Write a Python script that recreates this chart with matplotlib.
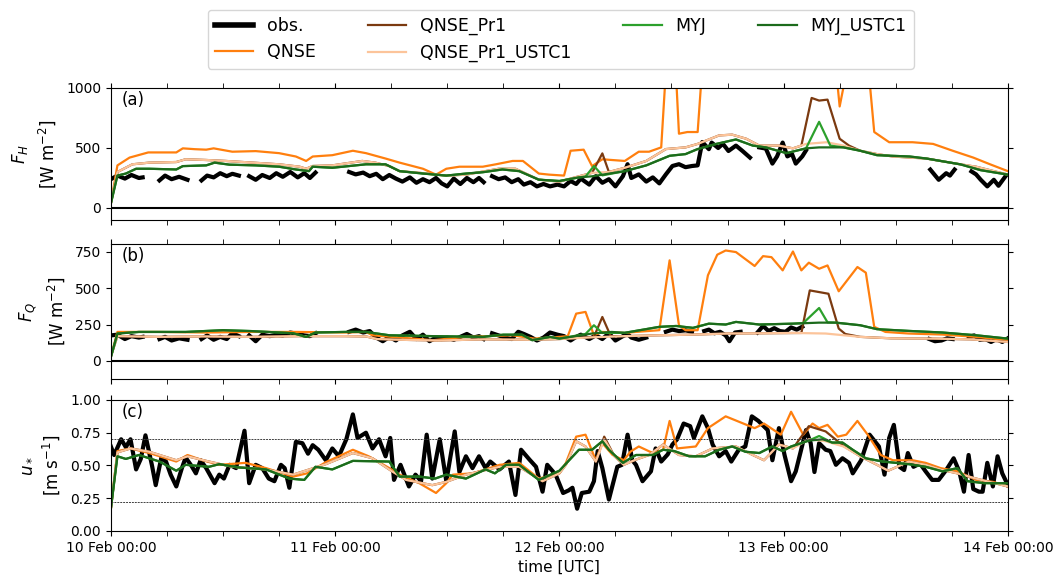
import numpy as np
import matplotlib
matplotlib.use('Agg')
import matplotlib.pyplot as plt
import matplotlib.dates as mdates

nan = np.nan

# ---- data: (hours since 10 Feb 00:00 UTC, value) ----
# (a) sensible heat flux F_H [W m-2]
obs_a = [(0, 240), (0.7, 270), (1.5, 245), (2.2, 275), (3, 250), (3.4, 255), (4.2, nan),
         (5.2, 230), (5.8, 270), (6.5, 240), (7.3, 260), (8.2, 235), (9, nan),
         (9.7, 230), (10.3, 270), (11, 255), (11.7, 290), (12.4, 265), (13, 285), (13.7, 270), (14.2, nan),
         (14.8, 265), (15.5, 235), (16.2, 275), (17, 250), (17.7, 290), (18.4, 260), (19.2, 300), (20, 255),
         (20.7, 290), (21.3, 250), (21.9, 295), (22.5, nan),
         (25.5, 300), (26.2, 280), (27, 295), (27.7, 265), (28.4, 285), (29.1, 240), (29.8, 275), (30.5, 245),
         (31.2, 220), (32, 255), (32.7, 210), (33.4, 240), (34.1, 215), (34.8, 250), (35.4, 205), (36, 180),
         (36.7, 245), (37.4, 200), (38.1, 250), (38.8, 215), (39.4, 250), (39.9, 215), (40.3, nan),
         (40.8, 265), (41.5, 240), (42.2, 255), (42.9, 215), (43.6, 240), (44.2, 195), (44.9, 215), (45.6, 180),
         (46.3, 200), (47, 180), (47.8, 195), (48.5, 180), (49.2, 225), (49.8, 200), (50.3, 245), (51.2, 195),
         (51.9, 265), (52.6, 210), (53.3, 240), (54, 180), (54.8, 265), (55.3, 365), (55.7, 250), (56.5, 280),
         (57.3, 220), (58, 255), (58.7, 205), (59.4, 280), (60.1, 350), (60.8, 365), (61.5, 340), (62.2, 350),
         (62.8, 355), (63.3, 550), (64, 490), (64.3, 545), (65, 500), (65.5, 535), (66.1, 475), (66.9, 520),
         (67.6, 475), (68.4, 420), (68.9, nan),
         (69.4, 505), (70.1, 495), (70.8, 370), (71.3, 430), (71.9, 545), (72.4, 430), (72.9, 450), (73.3, 370),
         (74, 430), (74.4, 480), (74.9, nan),
         (87.7, 320), (88.6, 235), (89.4, 290), (89.8, 270), (90.3, 320), (90.8, nan),
         (92.1, 305), (92.6, 280), (93.1, 235), (93.8, 180), (94.5, 235), (95, 185), (95.8, 270)]
qnse_a = [(0, 40), (0.7, 355), (2, 420), (4, 463), (7, 463), (7.7, 497), (9, 490), (10.2, 486), (11, 497),
          (13, 469), (15.5, 474), (18, 457), (19.8, 429), (20.9, 392), (21.6, 429), (23.7, 440), (25.9, 477),
          (27.3, 457), (29.4, 412), (30.9, 378), (33.4, 327), (34.8, 278), (35.9, 327), (37.3, 344), (39.8, 344),
          (41.2, 364), (43, 392), (44.1, 392), (45.8, 287), (46.9, 278), (48.5, 270), (49.2, 477), (50.6, 486),
          (51.5, 349), (52.6, 406), (53.6, 400), (55, 392), (56.5, 469), (57.6, 469), (58.9, 505), (59.6, 1400),
          (60.3, 1400), (60.8, 619), (61.7, 633), (62.8, 633), (63.5, 1400), (77.3, 1400), (78, 846),
          (79.4, 1400), (80.8, 1400), (81.7, 633), (83.3, 548), (85.8, 548), (88, 534), (90.1, 477),
          (92.3, 420), (94.1, 364), (96, 307)]
qnse_pr1_a = [(0, 40), (0.7, 300), (2.3, 364), (4.1, 378), (7, 383), (8, 406), (10.2, 400), (12.3, 392),
              (15.2, 378), (18, 364), (20.2, 344), (20.9, 327), (21.6, 350), (23.7, 355), (26.9, 392), (28.3, 378),
              (29.8, 349), (30.9, 307), (33, 293), (35.9, 270), (38, 278), (41.5, 327), (43.3, 327), (45.8, 236),
              (48, 220), (50.1, 264), (51.5, 293), (52.6, 455), (53.3, 300), (55, 335), (57.3, 392), (59.4, 491),
              (61.5, 505), (62.8, 534), (65.1, 605), (66.5, 611), (68, 577), (69.4, 520), (71.5, 520), (73, 497),
              (73.9, 520), (75, 917), (75.8, 895), (76.7, 903), (78, 577), (79, 520), (80.2, 477), (82, 449),
              (83.7, 429), (87.3, 412), (90.9, 364), (92.6, 344), (96, 278)]
qnse_pr1_ustc1_a = [(0, 40), (0.7, 300), (2.3, 364), (4.1, 378), (7, 383), (8, 406), (10.2, 400), (12.3, 392),
                    (15.2, 378), (18, 364), (20.2, 344), (20.9, 327), (21.6, 350), (23.7, 355), (26.9, 392),
                    (28.3, 378), (29.8, 349), (30.9, 307), (33, 293), (35.9, 270), (38, 278), (41.5, 327),
                    (43.3, 327), (45.8, 236), (48, 220), (50.1, 264), (51.5, 293), (53.3, 300), (55, 335),
                    (57.3, 392), (59.4, 491), (61.5, 505), (62.8, 534), (65.1, 605), (66.5, 611), (68, 577),
                    (69.4, 520), (71.5, 520), (73, 497), (74.4, 534), (76.6, 548), (78.4, 520), (80.2, 477),
                    (82, 449), (83.7, 429), (87.3, 412), (90.9, 364), (92.6, 344), (96, 278)]
myj_a = [(0, 37), (0.7, 270), (1.6, 287), (2.7, 327), (4.1, 327), (7, 321), (7.7, 349), (10.2, 355), (11.1, 378),
         (12.7, 361), (15.5, 355), (18, 344), (19.8, 321), (21.2, 307), (21.6, 344), (23.7, 335), (27.3, 364),
         (29.4, 364), (30.9, 307), (33.4, 287), (35.9, 270), (38, 287), (39.8, 298), (41.9, 321), (43.7, 307),
         (45.8, 236), (48, 225), (50.1, 255), (50.8, 262), (51.7, 350), (52.6, 272), (55, 307), (57.3, 355),
         (59.8, 435), (61.5, 449), (62.8, 491), (64.8, 534), (66.9, 571), (68.7, 520), (70.1, 505), (72.3, 457),
         (74.4, 497), (75.8, 718), (77, 520), (78.4, 505), (80.2, 477), (82, 440), (85.5, 429), (87.3, 412),
         (90.9, 364), (93.1, 315), (96, 278)]
myj_ustc1_a = [(0, 37), (0.7, 270), (1.6, 287), (2.7, 327), (4.1, 327), (7, 321), (7.7, 349), (10.2, 355),
               (11.1, 378), (12.7, 361), (15.5, 355), (18, 344), (19.8, 321), (21.2, 307), (21.6, 344), (23.7, 335),
               (27.3, 364), (29.4, 364), (30.9, 307), (33.4, 287), (35.9, 270), (38, 287), (39.8, 298), (41.9, 321),
               (43.7, 307), (45.8, 236), (48, 225), (50.1, 255), (51.5, 264), (55, 307), (57.3, 355), (59.8, 435),
               (61.5, 449), (62.8, 491), (64.8, 534), (66.9, 571), (68.7, 520), (70.1, 505), (72.3, 457),
               (74.4, 497), (75.8, 505), (78.4, 505), (80.2, 477), (82, 440), (85.5, 429), (87.3, 412),
               (90.9, 364), (93.1, 315), (96, 278)]

# (b) latent heat flux F_Q [W m-2]
obs_b = [(0, 175), (0.7, 180), (1.5, 150), (2.2, 170), (3, 160), (3.4, 165), (4.2, nan),
         (5.2, 150), (5.8, 165), (6.5, 140), (7.3, 155), (8.2, 145), (9, nan),
         (9.7, 150), (10.3, 175), (11, 145), (11.7, 165), (12.4, 150), (13, 190), (13.7, 170), (14.2, nan),
         (14.8, 175), (15.5, 135), (16.2, 180), (17, 170), (17.7, 180), (18.4, 175), (19.2, 195), (20, 185),
         (20.7, 175), (21.3, 170), (21.9, 190), (22.5, nan),
         (25.5, 200), (26.2, 215), (27, 195), (27.7, 205), (28.4, 160), (29.1, 135), (29.8, 165), (30.5, 140),
         (31.2, 175), (32, 200), (32.7, 150), (33.4, 180), (34.1, 135), (34.8, 160), (35.4, 150), (36, 160),
         (36.7, 145), (37.4, 165), (38.1, 185), (38.8, 160), (39.4, 170), (39.9, 150), (40.3, nan),
         (40.8, 190), (41.5, 175), (42.2, 160), (42.9, 150), (43.6, 200), (44.2, 185), (44.9, 165), (45.6, 140),
         (46.3, 160), (47, 195), (47.8, 180), (48.5, 170), (49.2, 140), (49.8, 165), (50.3, 180), (51.2, 150),
         (51.9, 175), (52.6, 150), (53.3, 190), (54, 140), (54.8, 170), (55.3, 185), (55.7, 160), (56.5, 145),
         (57.3, 160), (58, nan),
         (59.4, 200), (60.1, 215), (60.8, 205), (61.5, 210), (62.2, 200), (62.8, nan),
         (63.5, 205), (64, 215), (64.6, 190), (65.2, 200), (65.8, 175), (66.2, 135), (66.8, 195), (67.4, 200),
         (68, nan),
         (69.2, 195), (69.8, 240), (70.4, 205), (71, 225), (71.6, 205), (72.2, 200), (72.8, 230), (73.4, 215),
         (74, 235), (74.5, nan),
         (87.6, 150), (88.2, 135), (88.9, 140), (89.5, 155), (90.1, 150), (90.7, nan),
         (91.8, 165), (92.4, 175), (93, 145), (93.6, 150), (94.2, 130), (94.8, 150), (95.4, 130), (96, 155)]
qnse_b = [(0, 30), (0.7, 199), (5, 199), (10, 195), (15, 199), (20, 199), (25, 195), (27.3, 199), (28, 176),
          (31, 160), (34.5, 142), (38, 165), (43, 176), (45.3, 153), (48, 165), (48.9, 170), (49.8, 325),
          (50.8, 337), (51.7, 176), (52.6, 199), (55, 192), (56.2, 199), (58.7, 211), (59.8, 692), (60.8, 245),
          (61.5, 211), (62.8, 211), (63.9, 589), (64.9, 731), (65.8, 760), (66.9, 749), (68.9, 653), (69.8, 721),
          (70.7, 714), (71.9, 623), (73, 753), (73.9, 623), (74.7, 676), (75.8, 634), (76.7, 657), (77.9, 479),
          (79.9, 646), (80.8, 607), (81.7, 234), (82.9, 199), (85.4, 188), (89, 181), (92.6, 165), (96, 142)]
qnse_pr1_b = [(0, 30), (0.7, 170), (5, 165), (10, 168), (15, 165), (20, 170), (25, 170), (27.3, 168),
              (28.5, 150), (31, 145), (35, 140), (40, 148), (45, 145), (48, 150), (51.7, 165), (52.6, 302),
              (53.5, 170), (55, 170), (58.7, 176), (62, 180), (66, 188), (70, 190), (73.9, 192), (74.8, 485),
              (76.8, 462), (77.9, 222), (78.6, 185), (80.2, 165), (83.5, 155), (88, 153), (92, 148), (96, 130)]
qnse_pr1_ustc1_b = [(0, 30), (0.7, 170), (5, 165), (10, 168), (15, 165), (20, 170), (25, 170), (27.3, 168),
                    (28.5, 150), (31, 145), (35, 140), (40, 148), (45, 145), (48, 150), (51.5, 162), (55, 170),
                    (58.7, 176), (62, 180), (66, 188), (70, 190), (73, 192), (76.5, 188), (80.2, 165),
                    (83.5, 155), (88, 153), (92, 148), (96, 130)]
myj_b = [(0, 25), (0.7, 188), (3, 199), (8, 199), (12, 211), (15, 205), (19.5, 190), (20.9, 165), (21.9, 195),
         (25, 199), (27.3, 199), (29.8, 176), (34.5, 170), (39.8, 165), (42, 180), (44, 180), (45.1, 142),
         (47, 165), (48, 153), (50.8, 185), (51.7, 245), (52.6, 192), (55, 193), (58.7, 234), (60.5, 240),
         (62.3, 227), (64, 256), (65.8, 250), (66.9, 268), (69.4, 250), (73, 256), (74.1, 260), (75.8, 364),
         (76.7, 265), (77.6, 263), (80.2, 245), (82, 218), (85.4, 206), (89, 195), (92.6, 176), (96, 153)]
myj_ustc1_b = [(0, 25), (0.7, 188), (3, 199), (8, 199), (12, 211), (15, 205), (19.5, 190), (20.9, 165),
               (21.9, 195), (25, 199), (27.3, 199), (29.8, 176), (34.5, 170), (39.8, 165), (42, 180), (44, 180),
               (45.1, 142), (47, 165), (48, 153), (51.5, 188), (53.6, 199), (55, 193), (58.7, 234), (60.5, 240),
               (62.3, 227), (64, 256), (65.8, 250), (66.9, 268), (69.4, 250), (73, 256), (75.8, 263), (77.6, 263),
               (80.2, 245), (82, 218), (85.4, 206), (89, 195), (92.6, 176), (96, 153)]

# (c) friction velocity u* [m s-1]
obs_c = [(0, 0.645), (0.35, 0.58), (1.1, 0.70), (1.6, 0.64), (2.1, 0.70), (2.7, 0.47), (3.2, 0.55), (3.7, 0.73),
         (4.4, 0.50), (4.8, 0.35), (5.4, 0.56), (5.9, 0.53), (6.4, 0.43), (7, 0.34), (7.6, 0.48), (8, 0.56),
         (8.6, 0.50), (9.1, 0.44), (9.6, 0.54), (10.2, 0.48), (11.1, 0.365), (11.6, 0.43), (12.1, 0.40),
         (12.7, 0.505), (13.4, 0.48), (14.3, 0.765), (14.8, 0.365), (15.5, 0.505), (16.2, 0.48), (16.9, 0.40),
         (17.5, 0.38), (18.2, 0.505), (18.6, 0.48), (19.1, 0.33), (19.8, 0.68), (20.5, 0.67), (21.1, 0.59),
         (21.6, 0.655), (22.2, 0.62), (23, 0.54), (23.7, 0.63), (24.4, 0.57), (25.2, 0.70), (25.9, 0.89),
         (26.4, 0.71), (27.3, 0.75), (28, 0.63), (28.7, 0.70), (29.4, 0.57), (29.9, 0.71), (30.3, 0.39),
         (31, 0.505), (31.9, 0.34), (32.6, 0.43), (33.2, 0.38), (33.8, 0.735), (34.4, 0.40), (35.2, 0.70),
         (35.9, 0.38), (36.8, 0.76), (37.3, 0.45), (38, 0.57), (38.7, 0.48), (39.4, 0.57), (40.1, 0.48),
         (40.6, 0.53), (41.6, 0.47), (42.6, 0.53), (43.3, 0.275), (43.9, 0.62), (44.8, 0.545), (45.5, 0.49),
         (46.2, 0.30), (46.7, 0.505), (47.6, 0.43), (48.4, 0.29), (49, 0.31), (49.4, 0.33), (49.9, 0.17),
         (50.4, 0.29), (51.2, 0.30), (51.7, 0.38), (52.1, 0.61), (52.6, 0.48), (53.3, 0.24), (54.2, 0.49),
         (54.7, 0.505), (55.3, 0.735), (55.8, 0.54), (56.2, 0.505), (56.9, 0.38), (57.8, 0.455), (58.3, 0.63),
         (58.9, 0.53), (59.6, 0.585), (60.1, 0.66), (60.6, 0.70), (61.3, 0.82), (62, 0.80), (62.4, 0.71),
         (63.3, 0.875), (63.9, 0.785), (64.4, 0.66), (65.1, 0.57), (65.8, 0.61), (66.4, 0.53), (67.2, 0.62),
         (67.9, 0.645), (68.6, 0.875), (69.3, 0.84), (70.3, 0.77), (70.8, 0.54), (71.5, 0.785), (72.1, 0.58),
         (72.8, 0.38), (73.3, 0.455), (74.4, 0.77), (74.9, 0.67), (75.3, 0.45), (75.8, 0.67), (76.5, 0.62),
         (77, 0.61), (77.6, 0.505), (78.3, 0.555), (79, 0.52), (79.4, 0.44), (80.3, 0.54), (81.2, 0.735),
         (82.2, 0.645), (82.8, 0.43), (83.3, 0.71), (83.8, 0.81), (84.4, 0.49), (84.9, 0.465), (85.3, 0.595),
         (85.9, 0.49), (86.6, 0.515), (87.2, 0.455), (87.9, 0.39), (88.6, 0.39), (89.4, 0.465), (90.2, 0.555),
         (90.8, 0.455), (91.3, 0.30), (91.8, 0.58), (92.3, 0.32), (92.9, 0.30), (93.3, 0.30), (93.8, 0.52),
         (94.4, 0.34), (94.9, 0.57), (95.4, 0.44), (96, 0.35)]
qnse_c = [(0, 0.17), (0.7, 0.61), (2.1, 0.63), (4.1, 0.595), (7, 0.53), (8.2, 0.58), (9.8, 0.54), (11.6, 0.505),
          (14.4, 0.52), (16.6, 0.48), (19.5, 0.415), (21, 0.44), (23, 0.525), (25.9, 0.62), (27.6, 0.57),
          (29.8, 0.48), (30.9, 0.43), (33, 0.365), (34.8, 0.29), (35.9, 0.365), (36.6, 0.43), (38.7, 0.44),
          (40.1, 0.47), (41.6, 0.505), (43.7, 0.52), (45.8, 0.40), (48, 0.44), (48.7, 0.52), (49.8, 0.72),
          (50.8, 0.735), (51.9, 0.54), (52.6, 0.67), (53.7, 0.58), (54.9, 0.54), (55.6, 0.605), (56.5, 0.645),
          (58, 0.595), (59.1, 0.62), (59.8, 0.84), (60.6, 0.63), (62.6, 0.645), (63.9, 0.785), (65.8, 0.875),
          (68.9, 0.785), (69.9, 0.82), (71.7, 0.735), (72.8, 0.91), (74.1, 0.735), (75.1, 0.82), (75.8, 0.785),
          (76.7, 0.81), (77.8, 0.72), (78.7, 0.735), (79.9, 0.84), (81, 0.735), (82.4, 0.58), (83.7, 0.54),
          (85.8, 0.54), (87.2, 0.52), (88.8, 0.48), (90.6, 0.455), (92.6, 0.39), (94.4, 0.375), (96, 0.34)]
qnse_pr1_c = [(0, 0.17), (0.7, 0.60), (2.1, 0.63), (4.1, 0.605), (7, 0.54), (8.2, 0.57), (10.5, 0.53),
              (13, 0.49), (16.6, 0.47), (19.5, 0.43), (23, 0.51), (25.9, 0.595), (28, 0.555), (30.1, 0.455),
              (31.6, 0.39), (34.4, 0.35), (35.9, 0.375), (38, 0.43), (41.6, 0.49), (43.7, 0.49), (46.2, 0.38),
              (48, 0.44), (48.7, 0.505), (49.8, 0.685), (50.8, 0.645), (51.9, 0.53), (52.8, 0.72), (53.9, 0.57),
              (54.9, 0.505), (56.2, 0.545), (57.6, 0.58), (59.1, 0.66), (60.8, 0.58), (62.6, 0.57), (64.4, 0.63),
              (66.9, 0.645), (68.7, 0.58), (69.9, 0.54), (71.5, 0.66), (73, 0.63), (74.7, 0.80), (76.5, 0.76),
              (78.4, 0.65), (80.2, 0.57), (82, 0.505), (83.2, 0.46), (85.4, 0.53), (87.2, 0.505), (89, 0.465),
              (90.6, 0.44), (92.6, 0.40), (96, 0.34)]
qnse_pr1_ustc1_c = [(0, 0.17), (0.7, 0.60), (2.1, 0.63), (4.1, 0.605), (7, 0.54), (8.2, 0.57), (10.5, 0.53),
                    (13, 0.49), (16.6, 0.47), (19.5, 0.43), (23, 0.51), (25.9, 0.595), (28, 0.555),
                    (30.1, 0.455), (31.6, 0.39), (34.4, 0.35), (35.9, 0.375), (38, 0.43), (41.6, 0.49),
                    (43.7, 0.49), (46.2, 0.38), (48, 0.44), (48.7, 0.505), (49.8, 0.685), (50.8, 0.645),
                    (51.9, 0.53), (52.8, 0.70), (53.9, 0.57), (54.9, 0.505), (56.2, 0.545), (57.6, 0.58),
                    (59.1, 0.66), (60.8, 0.58), (62.6, 0.57), (64.4, 0.63), (66.9, 0.645), (68.7, 0.58),
                    (69.9, 0.54), (71.5, 0.66), (73, 0.63), (74.7, 0.70), (76.5, 0.685), (78.4, 0.645),
                    (80.2, 0.57), (82, 0.505), (83.2, 0.46), (85.4, 0.53), (87.2, 0.505), (89, 0.465),
                    (90.6, 0.44), (92.6, 0.40), (96, 0.34)]
myj_c = [(0, 0.17), (0.7, 0.57), (1.6, 0.55), (3, 0.58), (5.2, 0.53), (7, 0.46), (8, 0.505), (10.5, 0.49),
         (11.6, 0.51), (13.7, 0.485), (16.6, 0.47), (19.1, 0.40), (20.7, 0.39), (21.9, 0.49), (23.7, 0.47),
         (25.9, 0.535), (29.8, 0.53), (30.9, 0.415), (33, 0.415), (34.7, 0.40), (35.9, 0.43), (38, 0.40),
         (40.1, 0.47), (41.1, 0.44), (42.3, 0.505), (43.7, 0.505), (45.8, 0.39), (48, 0.46), (50.1, 0.62),
         (51.5, 0.62), (52.6, 0.685), (53.3, 0.62), (54.8, 0.52), (56.2, 0.58), (58, 0.58), (59.1, 0.62),
         (60.3, 0.61), (61.9, 0.57), (63.6, 0.57), (65.1, 0.62), (66.5, 0.645), (67.9, 0.605), (69.4, 0.595),
         (70.8, 0.645), (71.9, 0.61), (72.8, 0.645), (74.7, 0.69), (75.8, 0.725), (77.2, 0.675), (78.3, 0.675),
         (79.4, 0.62), (80.8, 0.555), (82.6, 0.53), (85.4, 0.51), (87.2, 0.49), (89, 0.455), (90.6, 0.48),
         (91.7, 0.38), (93.5, 0.365), (96, 0.365)]
myj_ustc1_c = [(0, 0.17), (0.7, 0.57), (1.6, 0.55), (3, 0.58), (5.2, 0.53), (7, 0.46), (8, 0.505), (10.5, 0.49),
               (11.6, 0.51), (13.7, 0.485), (16.6, 0.47), (19.1, 0.40), (20.7, 0.39), (21.9, 0.49), (23.7, 0.47),
               (25.9, 0.535), (29.8, 0.53), (30.9, 0.415), (33, 0.415), (34.7, 0.40), (35.9, 0.43), (38, 0.40),
               (40.1, 0.47), (41.1, 0.44), (42.3, 0.505), (43.7, 0.505), (45.8, 0.39), (48, 0.46), (50.1, 0.62),
               (51.5, 0.62), (52.6, 0.685), (53.3, 0.62), (54.8, 0.52), (56.2, 0.58), (58, 0.58), (59.1, 0.62),
               (60.3, 0.61), (61.9, 0.57), (63.6, 0.57), (65.1, 0.62), (66.5, 0.645), (67.9, 0.605),
               (69.4, 0.595), (70.8, 0.645), (71.9, 0.61), (72.8, 0.645), (74.7, 0.69), (76.2, 0.70),
               (77.2, 0.675), (78.3, 0.675), (79.4, 0.62), (80.8, 0.555), (82.6, 0.53), (85.4, 0.51),
               (87.2, 0.49), (89, 0.455), (90.6, 0.48), (91.7, 0.38), (93.5, 0.365), (96, 0.365)]

ustar_bounds = [0.70, 0.225]   # dotted reference lines in (c)

names = ['obs.', 'QNSE', 'QNSE_Pr1', 'QNSE_Pr1_USTC1', 'MYJ', 'MYJ_USTC1']
colors = ['black', '#ff7f0e', '#7b3a10', '#fcc49a', '#2ca02c', '#1c6b1c']
widths = [3.0, 1.6, 1.6, 1.6, 1.6, 1.6]

panels = [
    ('(a)', '$F_H$\n[W m$^{-2}$]', (-100, 1000), [0, 500, 1000],
     [obs_a, qnse_a, qnse_pr1_a, qnse_pr1_ustc1_a, myj_a, myj_ustc1_a]),
    ('(b)', '$F_Q$\n[W m$^{-2}$]', (-125, 805), [0, 250, 500, 750],
     [obs_b, qnse_b, qnse_pr1_b, qnse_pr1_ustc1_b, myj_b, myj_ustc1_b]),
    ('(c)', '$u_*$\n[m s$^{-1}$]', (0, 1), [0, 0.25, 0.5, 0.75, 1.0],
     [obs_c, qnse_c, qnse_pr1_c, qnse_pr1_ustc1_c, myj_c, myj_ustc1_c]),
]

t0 = np.datetime64('2018-02-10T00:00')


def to_time(hours):
    sec = np.round(np.asarray(hours, dtype=float) * 3600).astype(np.int64)
    return t0 + sec.astype('timedelta64[s]')


fig = plt.figure(figsize=(10.56, 5.8), dpi=100)
boxes = [[0.105, 0.6207, 0.8494, 0.2276],
         [0.105, 0.3466, 0.8494, 0.2328],
         [0.105, 0.0845, 0.8494, 0.2259]]

axes = []
for i, (tag, ylab, ylim, yticks, series) in enumerate(panels):
    ax = fig.add_axes(boxes[i])
    axes.append(ax)
    for name, col, lw, pts in zip(names, colors, widths, series):
        h = [p[0] for p in pts]
        v = [p[1] for p in pts]
        ax.plot(to_time(h), v, color=col, lw=lw, label=name)
    if i < 2:
        ax.axhline(0, color='black', lw=1.5)
    else:
        for b in ustar_bounds:
            ax.axhline(b, color='0.25', lw=0.7, ls=(0, (2, 1)))
    ax.set_ylim(ylim)
    ax.set_yticks(yticks)
    ax.set_xlim(to_time([0])[0], to_time([96])[0])
    ax.set_ylabel(ylab, fontsize=12, linespacing=1.35, labelpad=6)
    ax.text(0.012, 0.91, tag, transform=ax.transAxes, fontsize=12, va='center')
    ax.xaxis.set_major_locator(mdates.DayLocator())
    ax.xaxis.set_minor_locator(mdates.HourLocator(byhour=[6, 12, 18]))
    ax.xaxis.set_major_formatter(mdates.DateFormatter('%d %b %H:%M'))
    ax.tick_params(which='both', direction='out', top=True, right=True, labelsize=10)
    ax.tick_params(which='minor', length=3.5)
    if i < 2:
        ax.tick_params(labelbottom=False)

axes[2].set_yticklabels(['0.00', '0.25', '0.50', '0.75', '1.00'])
axes[2].set_xlabel('time [UTC]', fontsize=11)

handles, labels = axes[0].get_legend_handles_labels()
leg = fig.legend(handles, labels, loc='upper center', bbox_to_anchor=(0.531, 0.998), ncol=4,
                 fontsize=12.5, handlelength=2.2, columnspacing=3.0)
leg.legend_handles[0].set_linewidth(4.0)

fig.savefig('out.png', dpi=100)
